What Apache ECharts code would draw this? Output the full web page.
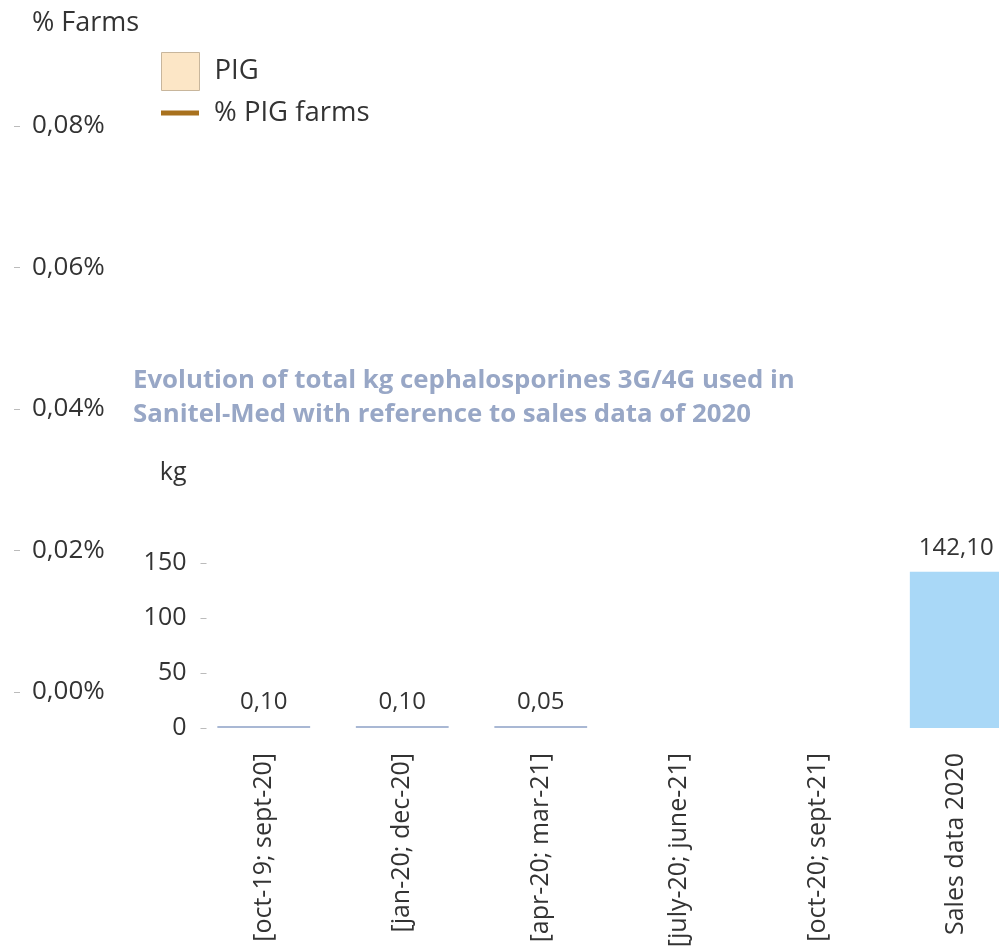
<!DOCTYPE html>
<html>
<head>
<meta charset="utf-8">
<script src="https://cdn.jsdelivr.net/npm/echarts@6/dist/echarts.min.js"></script>
<style>
  html, body { margin: 0; padding: 0; background: #fff; }
  #chart { width: 999px; height: 948px; }
</style>
</head>
<body>
<div id="chart"></div>
<script>
// % farms chart (no data drawn)
const farmTicks = [0, 0.02, 0.04, 0.06, 0.08];
const pigValues = [];
const pigFarmPct = [];

// kg chart
const periods = ['[oct-19; sept-20]', '[jan-20; dec-20]', '[apr-20; mar-21]', '[july-20; june-21]', '[oct-20; sept-21]', 'Sales data 2020'];
const kgValues = [0.10, 0.10, 0.05, null, null, 142.10];

const font = "'Open Sans', sans-serif";
const comma = (v, d) => v.toFixed(d).replace('.', ',');

const chart = echarts.init(document.getElementById('chart'));
chart.setOption({
  backgroundColor: '#fff',
  textStyle: { fontFamily: font },
  title: {
    text: 'Evolution of total kg cephalosporines 3G/4G used in\nSanitel-Med with reference to sales data of 2020',
    left: 128,
    top: 359,
    textStyle: {
      fontFamily: font,
      fontSize: 25.8,
      fontWeight: 'bold',
      color: '#98a7c6',
      lineHeight: 34
    }
  },
  legend: [
    {
      left: 156,
      top: 47,
      itemWidth: 38,
      itemHeight: 38,
      data: [{ name: 'PIG', icon: 'rect', itemStyle: { color: '#fce6c6', borderColor: '#c8b69c', borderWidth: 1 } }],
      textStyle: { fontFamily: font, fontSize: 27.5, color: '#333', padding: [0, 0, 0, 10] }
    },
    {
      left: 156,
      top: 94,
      itemWidth: 38,
      itemHeight: 5,
      data: [{ name: '% PIG farms', icon: 'rect', itemStyle: { color: '#a8711e' } }],
      textStyle: { fontFamily: font, fontSize: 27.5, color: '#333', padding: [0, 0, 0, 10] }
    }
  ],
  grid: [
    { left: 20, right: 20, top: 126, height: 566, outerBoundsMode: 'none' },
    { left: 194.5, width: 831, top: 563, bottom: 220, outerBoundsMode: 'none' }
  ],
  xAxis: [
    { gridIndex: 0, type: 'category', data: periods, show: false },
    {
      gridIndex: 1,
      type: 'category',
      data: periods,
      axisLine: { show: false },
      axisTick: { show: false },
      axisLabel: {
        rotate: 90,
        margin: 25,
        interval: 0,
        fontFamily: font,
        fontSize: 25,
        color: '#333'
      }
    }
  ],
  yAxis: [
    {
      gridIndex: 0,
      type: 'value',
      min: farmTicks[0],
      max: farmTicks[farmTicks.length - 1],
      interval: 0.02,
      name: '% Farms',
      nameLocation: 'end',
      nameGap: 89,
      nameTextStyle: { fontFamily: font, fontSize: 27, color: '#333', align: 'left', padding: [0, 0, 0, 12] },
      axisLine: { show: false },
      axisTick: { show: true, length: 6, lineStyle: { color: '#bbb' } },
      splitLine: { show: false },
      axisLabel: {
        inside: true,
        margin: 12,
        fontFamily: font,
        fontSize: 26,
        color: '#333',
        formatter: v => comma(v, 2) + '%'
      }
    },
    {
      gridIndex: 1,
      type: 'value',
      min: 0,
      max: 150,
      interval: 50,
      offset: -12,
      name: 'kg',
      nameLocation: 'end',
      nameGap: 78,
      nameTextStyle: { fontFamily: font, fontSize: 25, color: '#333', align: 'right', padding: [0, 20, 0, 0] },
      axisLine: { show: false },
      axisTick: { show: true, length: 6, lineStyle: { color: '#bbb' } },
      splitLine: { show: false },
      axisLabel: {
        margin: 20,
        fontFamily: font,
        fontSize: 25,
        color: '#333'
      }
    }
  ],
  series: [
    { name: 'PIG', type: 'bar', xAxisIndex: 0, yAxisIndex: 0, data: pigValues, itemStyle: { color: '#fce6c6' } },
    { name: '% PIG farms', type: 'line', xAxisIndex: 0, yAxisIndex: 0, data: pigFarmPct, itemStyle: { color: '#a8711e' } },
    {
      name: 'kg',
      type: 'bar',
      xAxisIndex: 1,
      yAxisIndex: 1,
      data: kgValues,
      barCategoryGap: '33%',
      barMinHeight: 2,
      itemStyle: {
        color: p => p.dataIndex === periods.length - 1 ? '#a9d8f7' : '#a9b8d4'
      },
      label: {
        show: true,
        position: 'top',
        distance: 12,
        fontFamily: font,
        fontSize: 24,
        color: '#333',
        formatter: p => p.value == null ? '' : comma(p.value, 2)
      }
    }
  ]
});
</script>
</body>
</html>
